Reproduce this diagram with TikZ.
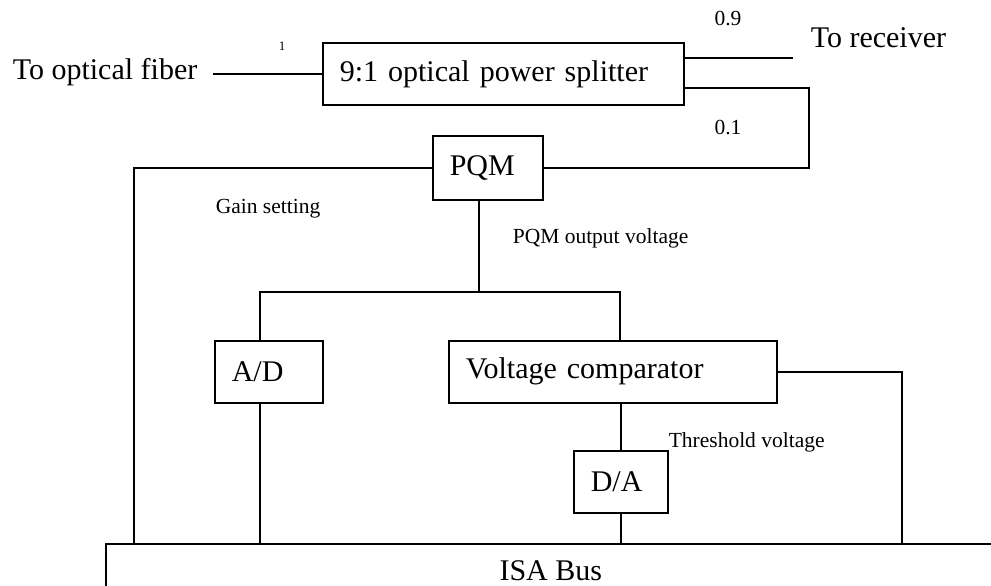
\documentclass[tikz,border=0pt]{standalone}
\usepackage{fontspec}
\setmainfont{Liberation Serif}
\begin{document}
\begin{tikzpicture}[x=1pt,y=-1pt,line width=1.6pt,
  big/.style={font=\fontsize{30}{36}\selectfont},
  small/.style={font=\fontsize{21.5}{26}\selectfont},
  blk/.style={draw,big,anchor=north west,inner xsep=17pt,inner ysep=0pt,align=left},
  lbl/.style={inner sep=0pt,anchor=base west}]
\useasboundingbox (0,0) rectangle (991,586);
\clip (0,0) rectangle (991,586);
% blocks
\node[blk,text width=327pt,minimum height=62pt] (split) at (322,42) {9:1 optical power splitter};
\node[blk,text width=76pt,minimum height=64pt] (pqm) at (432,135) {PQM};
\node[blk,text width=74pt,minimum height=62pt] (ad) at (214,340) {A/D};
\node[blk,text width=294pt,minimum height=62pt] (vc) at (448,340) {Voltage comparator};
\node[blk,text width=60pt,minimum height=62pt] (da) at (573,450) {D/A};
\node[draw,big,anchor=north west,minimum width=890pt,minimum height=54pt,inner sep=0pt] (bus) at (105,543) {ISA Bus};
% texts
\node[lbl,big] (fib) at (12,80) {To optical fiber};
\node[lbl,big] (rcv) at (810,48) {To receiver};
\node[inner sep=0pt,font=\fontsize{13}{14}\selectfont] (one) at (282,46) {1};
\node[inner sep=0pt,small] (l09) at (728,18.5) {0.9};
\node[inner sep=0pt,small] (l01) at (728,127.5) {0.1};
\node[lbl,small] (gain) at (215,213) {Gain setting};
\node[lbl,small] (pout) at (512,243) {PQM output voltage};
\node[lbl,small] (thr) at (668,447) {Threshold voltage};
% coordinates
\coordinate (fibend) at (213,73);
\coordinate (rx) at (793,58);
\coordinate (c1) at (809,88);
\coordinate (gx) at (134,543);
\coordinate (j) at (479,292);
\coordinate (jl) at (260,292);
\coordinate (jr) at (620,292);
\coordinate (vr) at (902,543);
% connectors
\draw (fibend |- split.west) -- (split.west);
\draw (split.east |- rx) -- (rx);
\draw (split.east |- c1) -| (pqm.east -| c1) -- (pqm.east);
\draw (pqm.west) -| (gx);
\draw (pqm.south -| j) -- (j);
\draw (jl |- ad.north) -- (jl) -- (jr) -- (jr |- vc.north);
\draw (jl |- ad.south) -- (jl |- bus.north);
\draw (da.north |- vc.south) -- (da.north);
\draw (da.south) -- (da.south |- bus.north);
\draw (vc.east) -| (vr);
\end{tikzpicture}
\end{document}
